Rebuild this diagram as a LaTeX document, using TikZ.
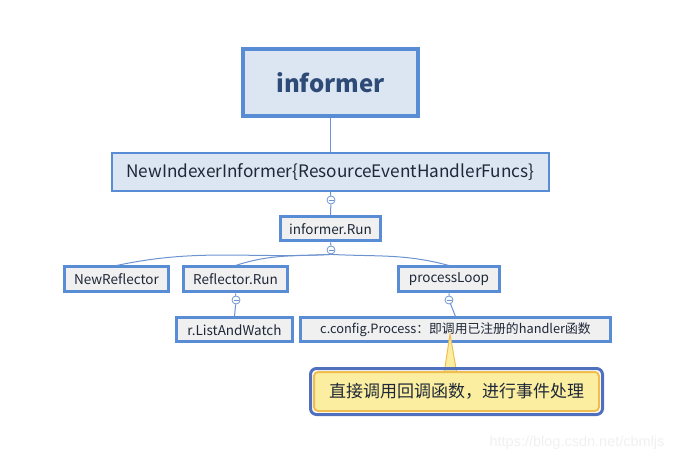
\documentclass[tikz,border=0pt]{standalone}
\usepackage{fontspec}
\usepackage{tikz}
\newfontfamily\cjk{Noto Sans CJK SC}
\newfontfamily\wmfont{Liberation Sans}
\definecolor{boxline}{RGB}{88,140,212}
\definecolor{headfill}{RGB}{220,230,242}
\definecolor{leaffill}{RGB}{240,240,240}
\definecolor{linkc}{RGB}{108,147,207}
\definecolor{headtext}{RGB}{46,74,118}
\definecolor{leaftext}{RGB}{30,40,56}
\definecolor{notefill}{RGB}{252,238,160}
\definecolor{noteline}{RGB}{240,190,80}
\definecolor{noteblue}{RGB}{80,112,190}

\begin{document}
\begin{tikzpicture}[x=1pt,y=-1pt,font=\cjk,
    leaf/.style={draw=boxline,line width=3,fill=leaffill,text=leaftext,
      font=\cjk\fontsize{13.5}{15}\selectfont,inner sep=0,minimum height=24},
    knob/.style={circle,draw=linkc,fill=white,inner sep=0,minimum size=8,line width=0.8,
      path picture={\draw[linkc,line width=0.9]
        ([xshift=-2.5]path picture bounding box.center) --
        ([xshift=2.5]path picture bounding box.center);}},
    link/.style={draw=linkc,line width=1}]
    \useasboundingbox (0,0) rectangle (678,465);
    \node[draw=boxline,line width=4,fill=headfill,text=headtext,
      font=\cjk\bfseries\fontsize{24}{28}\selectfont,
      minimum width=175,minimum height=67] (informer) at (330.5,82.5) {informer};
    \node[draw=boxline,line width=2,fill=headfill,text=leaftext,
      font=\cjk\fontsize{17.2}{20}\selectfont,
      minimum width=437,minimum height=38] (newidx) at (330.5,172) {NewIndexerInformer\{ResourceEventHandlerFuncs\}};
    \node[leaf,minimum width=100] (run) at (330.5,229) {informer.Run};
    \node[leaf,minimum width=104,minimum height=25] (newref) at (116.5,279.5) {NewReflector};
    \node[leaf,minimum width=104,minimum height=25] (refrun) at (235.5,279.5) {Reflector.Run};
    \node[leaf,minimum width=101,minimum height=25] (loop) at (449,279.5) {processLoop};
    \node[leaf,minimum width=116] (listwatch) at (234.5,330) {r.ListAndWatch};
    \node[leaf,minimum width=310,font=\cjk\fontsize{12.8}{15}\selectfont] (process) at (455.5,330) {c.config.Process：即调用已注册的handler函数};
    \node[knob] (k1) at (331,200) {};
    \node[knob] (k2) at (331,250) {};
    \node[knob] (k3) at (236,300) {};
    \node[knob] (k4) at (449,300) {};
    \draw[link] (informer.south) -- (newidx.north);
    \draw[link] (newidx.south) -- (k1) -- (run.north);
    \draw[link] (run.south) -- (k2.north);
    \draw[link] (k2.south) to[out=183,in=12] (newref.north);
    \draw[link] (k2.south) to[out=183,in=18] (refrun.north);
    \draw[link] (k2.south) to[out=-3,in=165] (loop.north);
    \draw[link] (refrun.south) -- (k3) -- (listwatch.north);
    \draw[link] (loop.south) -- (k4) -- (process.north);
    \coordinate (tip) at (450,334);
    \fill[notefill,draw=noteline,line width=1] (tip) -- (457,374) -- (444,374) -- cycle;
    \node[fill=notefill,draw=noteline,line width=2,rounded corners=4,text=leaftext,
      font=\cjk\fontsize{17}{20}\selectfont,
      minimum width=285,minimum height=39] (note) at (456.5,391.5) {直接调用回调函数，进行事件处理};
    \draw[noteblue,line width=3,rounded corners=6]
      ([shift={(-2.5,-2.5)}]note.north west) rectangle ([shift={(2.5,2.5)}]note.south east);
    \node[text=black!6,font=\wmfont\fontsize{14.5}{16}\selectfont,anchor=east] (mark) at (668,443) {https://blog.csdn.net/cbmljs};
\end{tikzpicture}
\end{document}
